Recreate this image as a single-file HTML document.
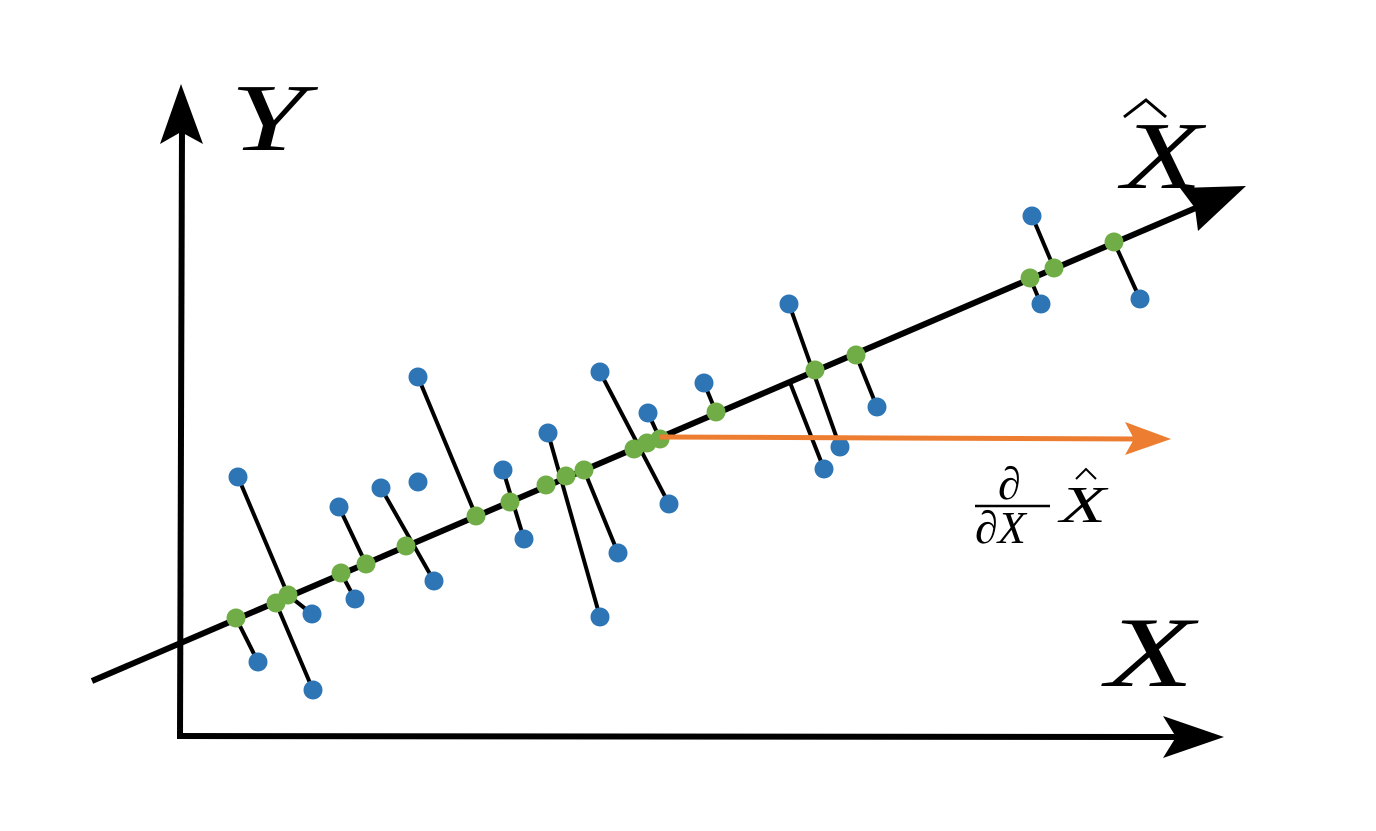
<!DOCTYPE html>
<html><head><meta charset="utf-8"><style>
html,body{margin:0;padding:0;background:#fff;}
svg{display:block;}
text{font-family:"Liberation Serif",serif;font-style:italic;fill:#000;}
</style></head><body>
<svg id="chart" width="1376" height="831" viewBox="0 0 1376 831" xmlns="http://www.w3.org/2000/svg">
<g id="axes">
<line x1="180" y1="736" x2="182" y2="130" stroke="#000" stroke-width="6"/>
<polygon points="181,84 160,144 181,132 203,144" fill="#000"/>
<line x1="177" y1="736" x2="1180" y2="737" stroke="#000" stroke-width="6"/>
<polygon points="1224,737 1163,716 1176,737 1163,758" fill="#000"/>
<text x="230" y="150" font-size="96" textLength="76" lengthAdjust="spacingAndGlyphs">Y</text>
<text x="1106" y="686" font-size="100" textLength="88" lengthAdjust="spacingAndGlyphs">X</text>
</g>
<g id="fitline">
<line x1="92" y1="681" x2="1205" y2="204" stroke="#000" stroke-width="6"/>
<polygon points="1246,186 1180,188 1195,208 1198,231" fill="#000"/>
<text x="1122" y="188" font-size="96" textLength="80" lengthAdjust="spacingAndGlyphs">X</text>
<path d="M1124,117 L1146,100 L1166,117" fill="none" stroke="#000" stroke-width="3"/>
</g>
<g id="segments"></g>
<g id="points"></g>
<g id="deriv">
<line x1="660" y1="437" x2="1140" y2="439" stroke="#ed7d31" stroke-width="5"/>
<polygon points="1171,439 1125,422 1134,439 1125,455" fill="#ed7d31"/>
<text x="998" y="499" font-size="46">∂</text>
<line x1="975" y1="506" x2="1050" y2="506" stroke="#000" stroke-width="2.5"/>
<text x="975" y="543" font-size="46">∂X</text>
<text x="1060" y="522" font-size="52" textLength="46" lengthAdjust="spacingAndGlyphs">X</text>
<path d="M1076,479 L1086,469 L1096,479" fill="none" stroke="#000" stroke-width="2"/>
</g>
</svg>
<script>
// data units: x = (px-178)/10, y = (736-py)/10
const blueX=[6.0,8.0,13.5,13.4,16.1,17.7,20.3,24.0,25.6,24.0,32.5,34.6,37.0,42.2,44.0,42.2,47.0,49.1,52.6,61.1,64.6,66.2,69.9,85.4,86.3,96.2];
const blueY=[25.9,7.4,4.6,12.2,22.9,13.7,24.8,25.4,15.5,35.9,26.6,19.7,30.3,11.9,18.3,36.4,32.3,23.2,35.3,43.2,26.7,28.9,32.9,52.0,43.2,43.7];
const greenX=[5.8,9.8,11.0,16.3,18.8,22.8,29.8,33.2,36.8,38.8,40.6,45.6,46.9,48.2,53.8,63.7,67.8,85.2,87.6,93.6];
const greenY=[11.8,13.3,14.1,16.3,17.2,19.0,22.0,23.4,25.1,26.0,26.6,28.7,29.3,29.7,32.4,36.6,38.1,45.8,46.8,49.4];
// segments: [x1,y1,x2,y2] in data units
const segX1=[8.0,6.0,9.8,13.4,16.1,17.7,20.3,24.0,32.5,37.0,40.6,42.2,47.0,52.6,61.1,61.1,67.8,85.4,86.3,93.6];
const segY1=[7.4,25.9,13.3,12.2,22.9,13.7,24.8,35.9,26.6,30.3,26.6,36.4,32.3,35.3,43.2,35.6,38.1,52.0,43.2,49.4];
const segX2=[5.8,11.0,13.5,11.0,18.8,16.3,25.6,29.8,34.6,42.2,44.0,49.1,48.2,53.8,66.2,64.6,69.9,87.6,85.2,96.2];
const segY2=[11.8,14.1,4.6,14.1,17.2,16.3,15.5,22.0,19.7,11.9,18.3,23.2,29.7,32.4,28.9,26.7,32.9,46.8,45.8,43.7];
const sx=v=>178+v*10, sy=v=>736-v*10;
const NS='http://www.w3.org/2000/svg';
const seg=document.getElementById('segments'), pts=document.getElementById('points');
for(let i=0;i<segX1.length;i++){
  const l=document.createElementNS(NS,'line');
  
  
  l.setAttribute('x1',sx(segX1[i]));l.setAttribute('y1',sy(segY1[i]));
  l.setAttribute('x2',sx(segX2[i]));l.setAttribute('y2',sy(segY2[i]));
  l.setAttribute('stroke','#000');l.setAttribute('stroke-width','4');
  seg.appendChild(l);
}
for(let i=0;i<blueX.length;i++){
  const c=document.createElementNS(NS,'circle');
  
  
  c.setAttribute('cx',sx(blueX[i]));c.setAttribute('cy',sy(blueY[i]));
  c.setAttribute('r','9.5');c.setAttribute('fill','#2e75b6');
  pts.appendChild(c);
}
for(let i=0;i<greenX.length;i++){
  const c=document.createElementNS(NS,'circle');
  
  
  c.setAttribute('cx',sx(greenX[i]));c.setAttribute('cy',sy(greenY[i]));
  c.setAttribute('r','9.5');c.setAttribute('fill','#70ad47');
  pts.appendChild(c);
}
</script>
</body></html>
